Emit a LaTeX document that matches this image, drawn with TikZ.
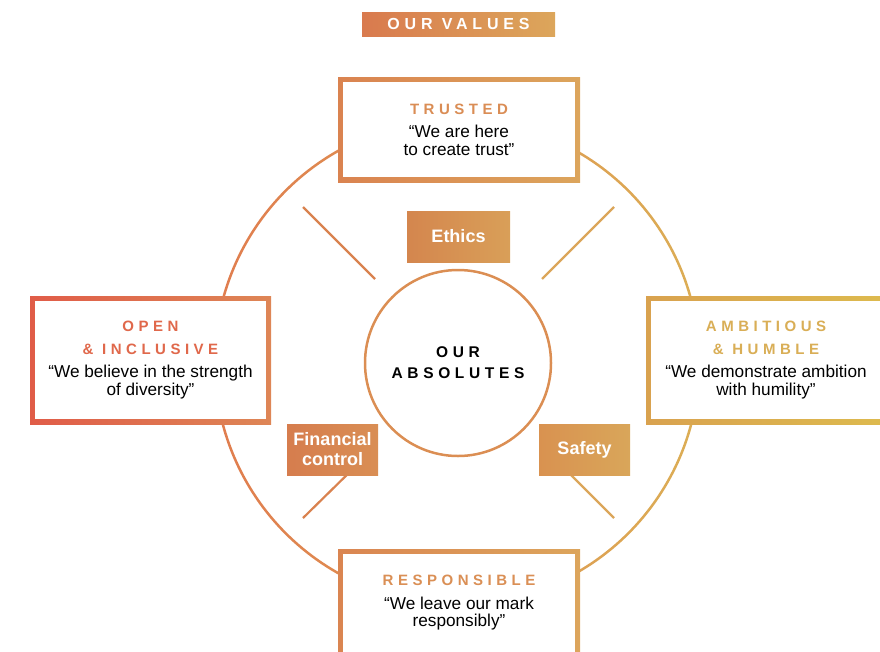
\documentclass[tikz,border=0pt]{standalone}
\usepackage{fontspec}
\setmainfont{Liberation Sans}
\newfontfamily\capsfont[LetterSpace=30]{Liberation Sans}
\usetikzlibrary{positioning}
\definecolor{ringL}{HTML}{E07D4F}
\definecolor{ringR}{HTML}{DCAE55}
\definecolor{innerring}{HTML}{DB8E53}
\definecolor{spokeL}{HTML}{D9824F}
\definecolor{spokeR}{HTML}{DBA65A}
\definecolor{trustL}{HTML}{DA8350}
\definecolor{trustR}{HTML}{DCA55C}
\definecolor{trusthead}{HTML}{DA8D55}
\definecolor{openL}{HTML}{E05C48}
\definecolor{openR}{HTML}{DE8656}
\definecolor{openhead}{HTML}{E0684B}
\definecolor{ambL}{HTML}{D9A24F}
\definecolor{ambR}{HTML}{DDBA4E}
\definecolor{ambhead}{HTML}{D9AE56}
\definecolor{respL}{HTML}{DA8551}
\definecolor{respR}{HTML}{DCA55C}
\definecolor{resphead}{HTML}{DA8F55}
\definecolor{titleL}{HTML}{D97A4E}
\definecolor{titleR}{HTML}{DCA65B}
\definecolor{ethL}{HTML}{D4864E}
\definecolor{ethR}{HTML}{D99F58}
\definecolor{finL}{HTML}{D67D4E}
\definecolor{finR}{HTML}{D98E54}
\definecolor{safeL}{HTML}{D99250}
\definecolor{safeR}{HTML}{D9A65A}
\tikzset{
  valuebox/.style 2 args = {rectangle, inner sep=0pt, align=center,
    left color=#1, right color=#2, text=black,
    font=\fontsize{17.2}{17.5}\selectfont,
    path picture={\fill[white] ([shift={(5pt,5pt)}]path picture bounding box.south west)
      rectangle ([shift={(-5pt,-5pt)}]path picture bounding box.north east);}},
  absolute/.style 2 args = {rectangle, inner sep=0pt, align=center,
    left color=#1, right color=#2, text=white, minimum height=51pt,
    font=\bfseries\fontsize{18}{20}\selectfont},
  spoke/.style = {line width=2.2pt},
  absring/.style = {circle, draw=innerring, line width=2.5pt, minimum size=186pt,
    align=center, font=\capsfont\bfseries\fontsize{15.5}{21}\selectfont}
}
\newcommand{\valuehead}[2]{{\capsfont\bfseries\fontsize{15}{17.5}\selectfont\color{#1}#2}}

\begin{document}
\begin{tikzpicture}[x=1pt, y=-1pt]
\useasboundingbox (0,0) rectangle (880,651);
\coordinate (c) at (457,362);
% big ring
\shade[left color=ringL, right color=ringR, even odd rule]
  (c) circle[radius=243.5] (c) circle[radius=241];
% spokes
\coordinate (tl out) at (303,207);
\coordinate (tl in) at (375,279);
\coordinate (tr out) at (614,207);
\coordinate (tr in) at (542,279);
\coordinate (bl out) at (303,518);
\coordinate (bl in) at (360,462);
\coordinate (br out) at (614,518);
\coordinate (br in) at (556,460);
\draw[spoke, spokeL] (tl out) -- (tl in);
\draw[spoke, spokeR] (tr out) -- (tr in);
\draw[spoke, spokeL] (bl out) -- (bl in);
\draw[spoke, spokeR] (br out) -- (br in);

\node[rectangle, left color=titleL, right color=titleR, text=white,
  minimum width=193pt, minimum height=24pt, inner sep=0pt,
  font=\capsfont\bfseries\fontsize{16}{18}\selectfont] (values) at (458.5,24) {OUR VALUES};

\node[absring] (absolutes) at (458,363) {OUR\\ABSOLUTES};

\node[valuebox={trustL}{trustR}, minimum width=242pt, minimum height=105pt] (trusted) at (459,129.5)
  {\valuehead{trusthead}{TRUSTED}\\[6pt]“We are here\\to create trust”};
\node[valuebox={openL}{openR}, minimum width=241pt, minimum height=128pt] (open) at (150.5,360)
  {\valuehead{openhead}{OPEN}\\[5.5pt]\valuehead{openhead}{\&\ INCLUSIVE}\\[6pt]“We believe in the strength\\of diversity”};
\node[valuebox={ambL}{ambR}, minimum width=240pt, minimum height=128pt] (ambitious) at (766,360)
  {\valuehead{ambhead}{AMBITIOUS}\\[5.5pt]\valuehead{ambhead}{\&\ HUMBLE}\\[6pt]“We demonstrate ambition\\with humility”};
\node[valuebox={respL}{respR}, minimum width=242pt, minimum height=108pt] (responsible) at (459,603)
  {\valuehead{resphead}{RESPONSIBLE}\\[6pt]“We leave our mark\\responsibly”};

\node[absolute={ethL}{ethR}, minimum width=103pt] (ethics) at (458.5,236.5) {Ethics};
\node[absolute={finL}{finR}, minimum width=91pt] (financial) at (332.5,449.5) {Financial\\control};
\node[absolute={safeL}{safeR}, minimum width=91pt] (safety) at (584.5,449.5) {Safety};
\end{tikzpicture}
\end{document}
